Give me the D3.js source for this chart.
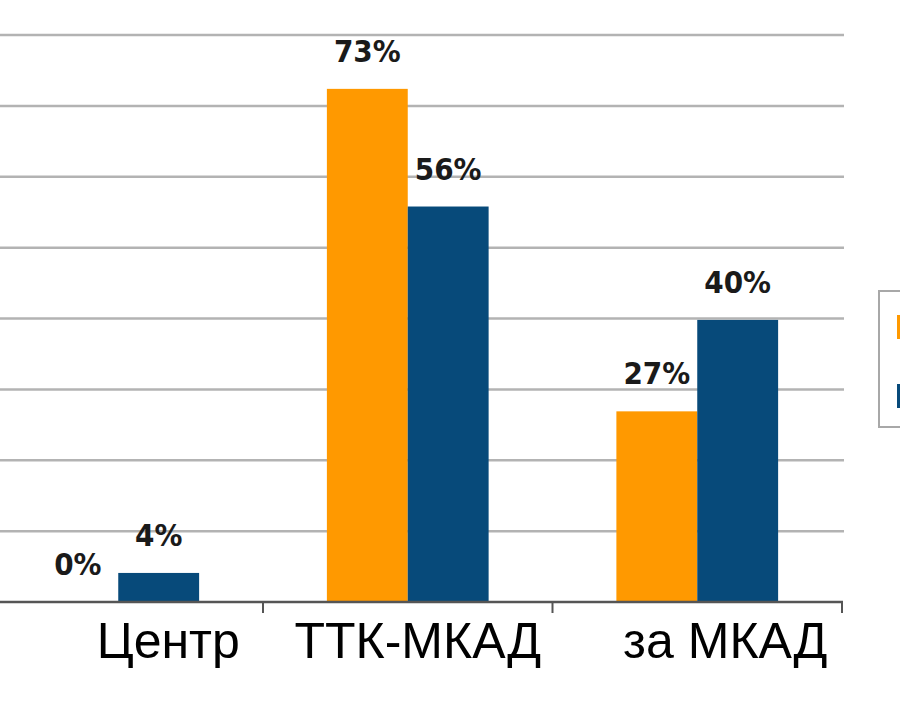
<!DOCTYPE html>
<html>
<head>
<meta charset="utf-8">
<script src="https://cdn.jsdelivr.net/npm/d3@7"></script>
<style>
  html, body { margin: 0; padding: 0; background: #fff; }
  svg { display: block; }
</style>
</head>
<body>
<svg id="chart" width="900" height="720"></svg>
<script>
// ---- data ----
const categories = ["Центр", "ТТК-МКАД", "за МКАД"];
const seriesNames = ["Серия 1", "Серия 2"];
const seriesOrange = [0, 72.4, 26.9];
const seriesBlue = [4.1, 55.8, 39.8];
const labelsOrange = ["0%", "73%", "27%"];
const labelsBlue = ["4%", "56%", "40%"];
const gridTicks = [10, 20, 30, 40, 50, 60, 70, 80];

// ---- drawing ----
const colors = ["#FF9900", "#074A7A"];
const svg = d3.select("#chart");

const y = d3.scaleLinear().domain([0, 80]).range([602, 35]);
const x0 = d3.scaleBand().domain(categories).range([-26.5, 842]).padding(0);
const x1 = d3.scaleBand().domain(seriesNames).range([0, x0.bandwidth()])
  .paddingInner(0).paddingOuter(0.79);

// gridlines
svg.append("g").selectAll("line").data(gridTicks).join("line")
  .attr("x1", 0).attr("x2", 844)
  .attr("y1", d => y(d)).attr("y2", d => y(d))
  .attr("stroke", "#b3b3b3").attr("stroke-width", 2.5);

const rows = categories.map((c, i) => ({
  cat: c,
  vals: [
    { s: seriesNames[0], v: seriesOrange[i], lab: labelsOrange[i], col: colors[0] },
    { s: seriesNames[1], v: seriesBlue[i], lab: labelsBlue[i], col: colors[1] }
  ]
}));

const groups = svg.append("g").selectAll("g").data(rows).join("g")
  .attr("transform", d => `translate(${x0(d.cat)},0)`);

groups.selectAll("rect").data(d => d.vals).join("rect")
  .attr("x", d => x1(d.s))
  .attr("width", x1.bandwidth())
  .attr("y", d => y(d.v))
  .attr("height", d => y(0) - y(d.v))
  .attr("fill", d => d.col);

groups.selectAll("text").data(d => d.vals).join("text")
  .attr("x", d => x1(d.s) + x1.bandwidth() / 2)
  .attr("y", d => y(d.v) - 27)
  .attr("text-anchor", "middle")
  .attr("font-family", "'DejaVu Sans Condensed', 'DejaVu Sans', sans-serif")
  .attr("font-weight", "bold")
  .attr("font-size", 31)
  .attr("fill", "#1a1a1a")
  .text(d => d.lab);

// x axis
const xAxis = d3.axisBottom(x0).tickSize(0).tickFormat(d => d);
const ax = svg.append("g").attr("transform", `translate(0,${y(0)})`).call(xAxis);
ax.select(".domain").remove();
ax.append("line").attr("x1", 0).attr("x2", 843).attr("y1", 0).attr("y2", 0)
  .attr("stroke", "#555").attr("stroke-width", 2.5);
// tick marks at band boundaries
ax.append("g").selectAll("line").data(categories).join("line")
  .attr("x1", d => x0(d) + x0.bandwidth()).attr("x2", d => x0(d) + x0.bandwidth())
  .attr("y1", 0).attr("y2", 11)
  .attr("stroke", "#555").attr("stroke-width", 2);
const labelShift = [50, 10, 28];
ax.selectAll(".tick text")
  .attr("font-family", "'Liberation Sans', Arial, sans-serif")
  .attr("font-size", 50)
  .attr("fill", "#000")
  .attr("dy", 0)
  .attr("y", 56)
  .attr("x", (d, i) => labelShift[i]);

// legend (clipped at right edge)
const lg = svg.append("g");
lg.append("rect").attr("x", 879).attr("y", 291).attr("width", 40).attr("height", 136)
  .attr("fill", "#fff").attr("stroke", "#a8a8a8").attr("stroke-width", 2);
lg.selectAll(".sw").data(seriesNames).join("rect").attr("class", "sw")
  .attr("x", 897).attr("y", (d, i) => 315 + i * 69)
  .attr("width", 20).attr("height", 24)
  .attr("fill", (d, i) => colors[i]);
</script>
</body>
</html>
